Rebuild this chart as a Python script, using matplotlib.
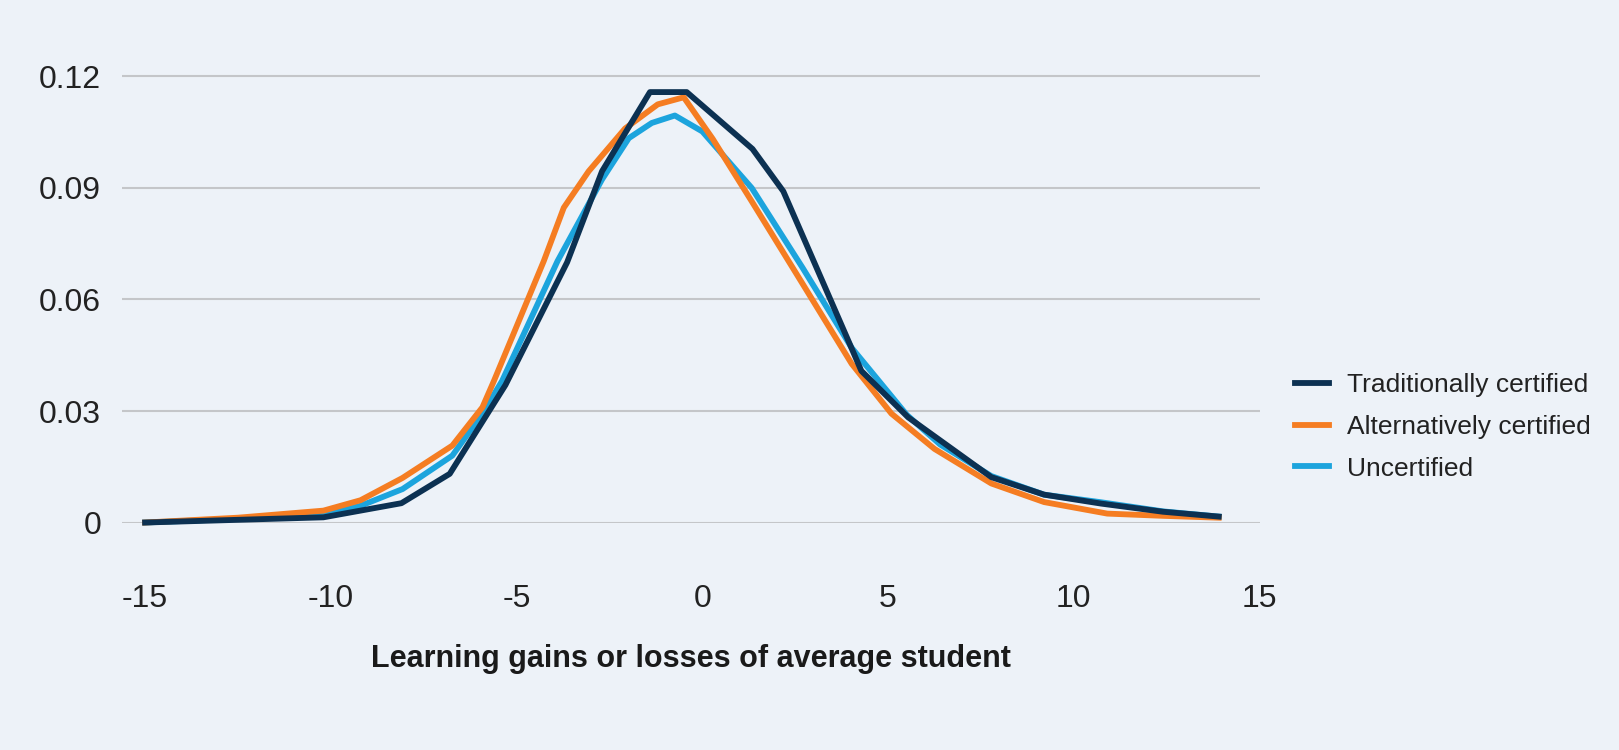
import matplotlib
matplotlib.use("Agg")
import matplotlib.pyplot as plt

plt.rcParams['font.family'] = ['Liberation Sans', 'DejaVu Sans']

#%% Data
x_trad = [-15, -10.2, -8.1, -6.8, -5.3, -3.64, -2.7, -1.41, -0.42, 1.35, 2.18,
          3.93, 4.28, 5.54, 7.78, 9.2, 10.73, 12.4, 13.9]
y_trad = [0, 0.0014, 0.0052, 0.0131, 0.037, 0.070, 0.0945, 0.1158, 0.1158, 0.1005,
          0.0891, 0.0489, 0.0408, 0.0283, 0.0122, 0.0075, 0.0051, 0.0029, 0.0016]

x_alt = [-15, -12.5, -10.2, -9.2, -8.07, -6.73, -5.92, -5.61, -4.27, -3.73, -3.06,
         -2.08, -1.2, -0.5, 0.28, 1.33, 2.7, 4.02, 5.09, 6.25, 7.78, 9.2,
         10.9, 12.4, 13.9]
y_alt = [0, 0.0013, 0.0032, 0.006, 0.012, 0.0207, 0.031, 0.0381, 0.0703, 0.0847,
         0.0945, 0.106, 0.1125, 0.1144, 0.1032, 0.0864, 0.0642, 0.0427,
         0.0293, 0.0198, 0.0105, 0.0055, 0.0024, 0.0018, 0.0013]

x_unc = [-15, -12.5, -10.2, -9.2, -8.07, -6.73, -5.92, -5.39, -3.9, -2.7, -1.98,
         -1.36, -0.74, 0.0, 1.33, 2.7, 4.02, 5.5, 6.4, 7.78, 9.2, 10.7, 12.4, 13.9]
y_unc = [0, 0.001, 0.0022, 0.0045, 0.009, 0.018, 0.0293, 0.0381, 0.0703, 0.0923,
         0.1034, 0.1075, 0.1095, 0.1052, 0.090, 0.0685, 0.047, 0.029, 0.021,
         0.0125, 0.0075, 0.0055, 0.003, 0.0016]

labels = ['Traditionally certified', 'Alternatively certified', 'Uncertified']
colors = ['#0c3152', '#f57d22', '#1ca4dd']
x_ticks = [-15, -10, -5, 0, 5, 10, 15]
y_ticks = [0, 0.03, 0.06, 0.09, 0.12]
y_ticklabels = ['0', '0.03', '0.06', '0.09', '0.12']

bg = '#edf2f8'

#%% Plot
fig = plt.figure(figsize=(16.19, 7.5), dpi=100, facecolor=bg)
ax = fig.add_axes([0.0754, 0.3033, 0.7026, 0.6443], facecolor=bg)

# blue and orange sit under the dark line
ax.plot(x_unc, y_unc, color=colors[2], lw=4.2, clip_on=False, zorder=3, label=labels[2])
ax.plot(x_alt, y_alt, color=colors[1], lw=4.2, clip_on=False, zorder=4, label=labels[1])
ax.plot(x_trad, y_trad, color=colors[0], lw=4.2, clip_on=False, zorder=5, label=labels[0])

ax.set_xlim(-15.62, 15)
ax.set_ylim(0, 0.13)
ax.set_xticks(x_ticks)
ax.set_xticklabels([str(t) for t in x_ticks])
ax.set_yticks(y_ticks)
ax.set_yticklabels(y_ticklabels)
ax.tick_params(axis='both', length=0, labelsize=23, labelcolor='#222222')
ax.tick_params(axis='x', pad=44)
ax.tick_params(axis='y', pad=15)
ax.yaxis.grid(True, color='#c4c6c9', lw=1.5)
ax.set_axisbelow(True)
for s in ax.spines.values():
    s.set_visible(False)

ax.set_xlabel('Learning gains or losses of average student', fontsize=22,
              fontweight='bold', color='#1a1a1a', labelpad=22)

h, l = ax.get_legend_handles_labels()
order = [2, 1, 0]
leg = fig.legend([h[i] for i in order], [l[i] for i in order],
                 loc='center left', bbox_to_anchor=(0.785, 0.431),
                 frameon=False, fontsize=19, handlelength=1.3,
                 handletextpad=0.7, labelspacing=0.68)
for t in leg.get_texts():
    t.set_color('#222222')

fig.savefig('out.png', dpi=100, facecolor=bg)
